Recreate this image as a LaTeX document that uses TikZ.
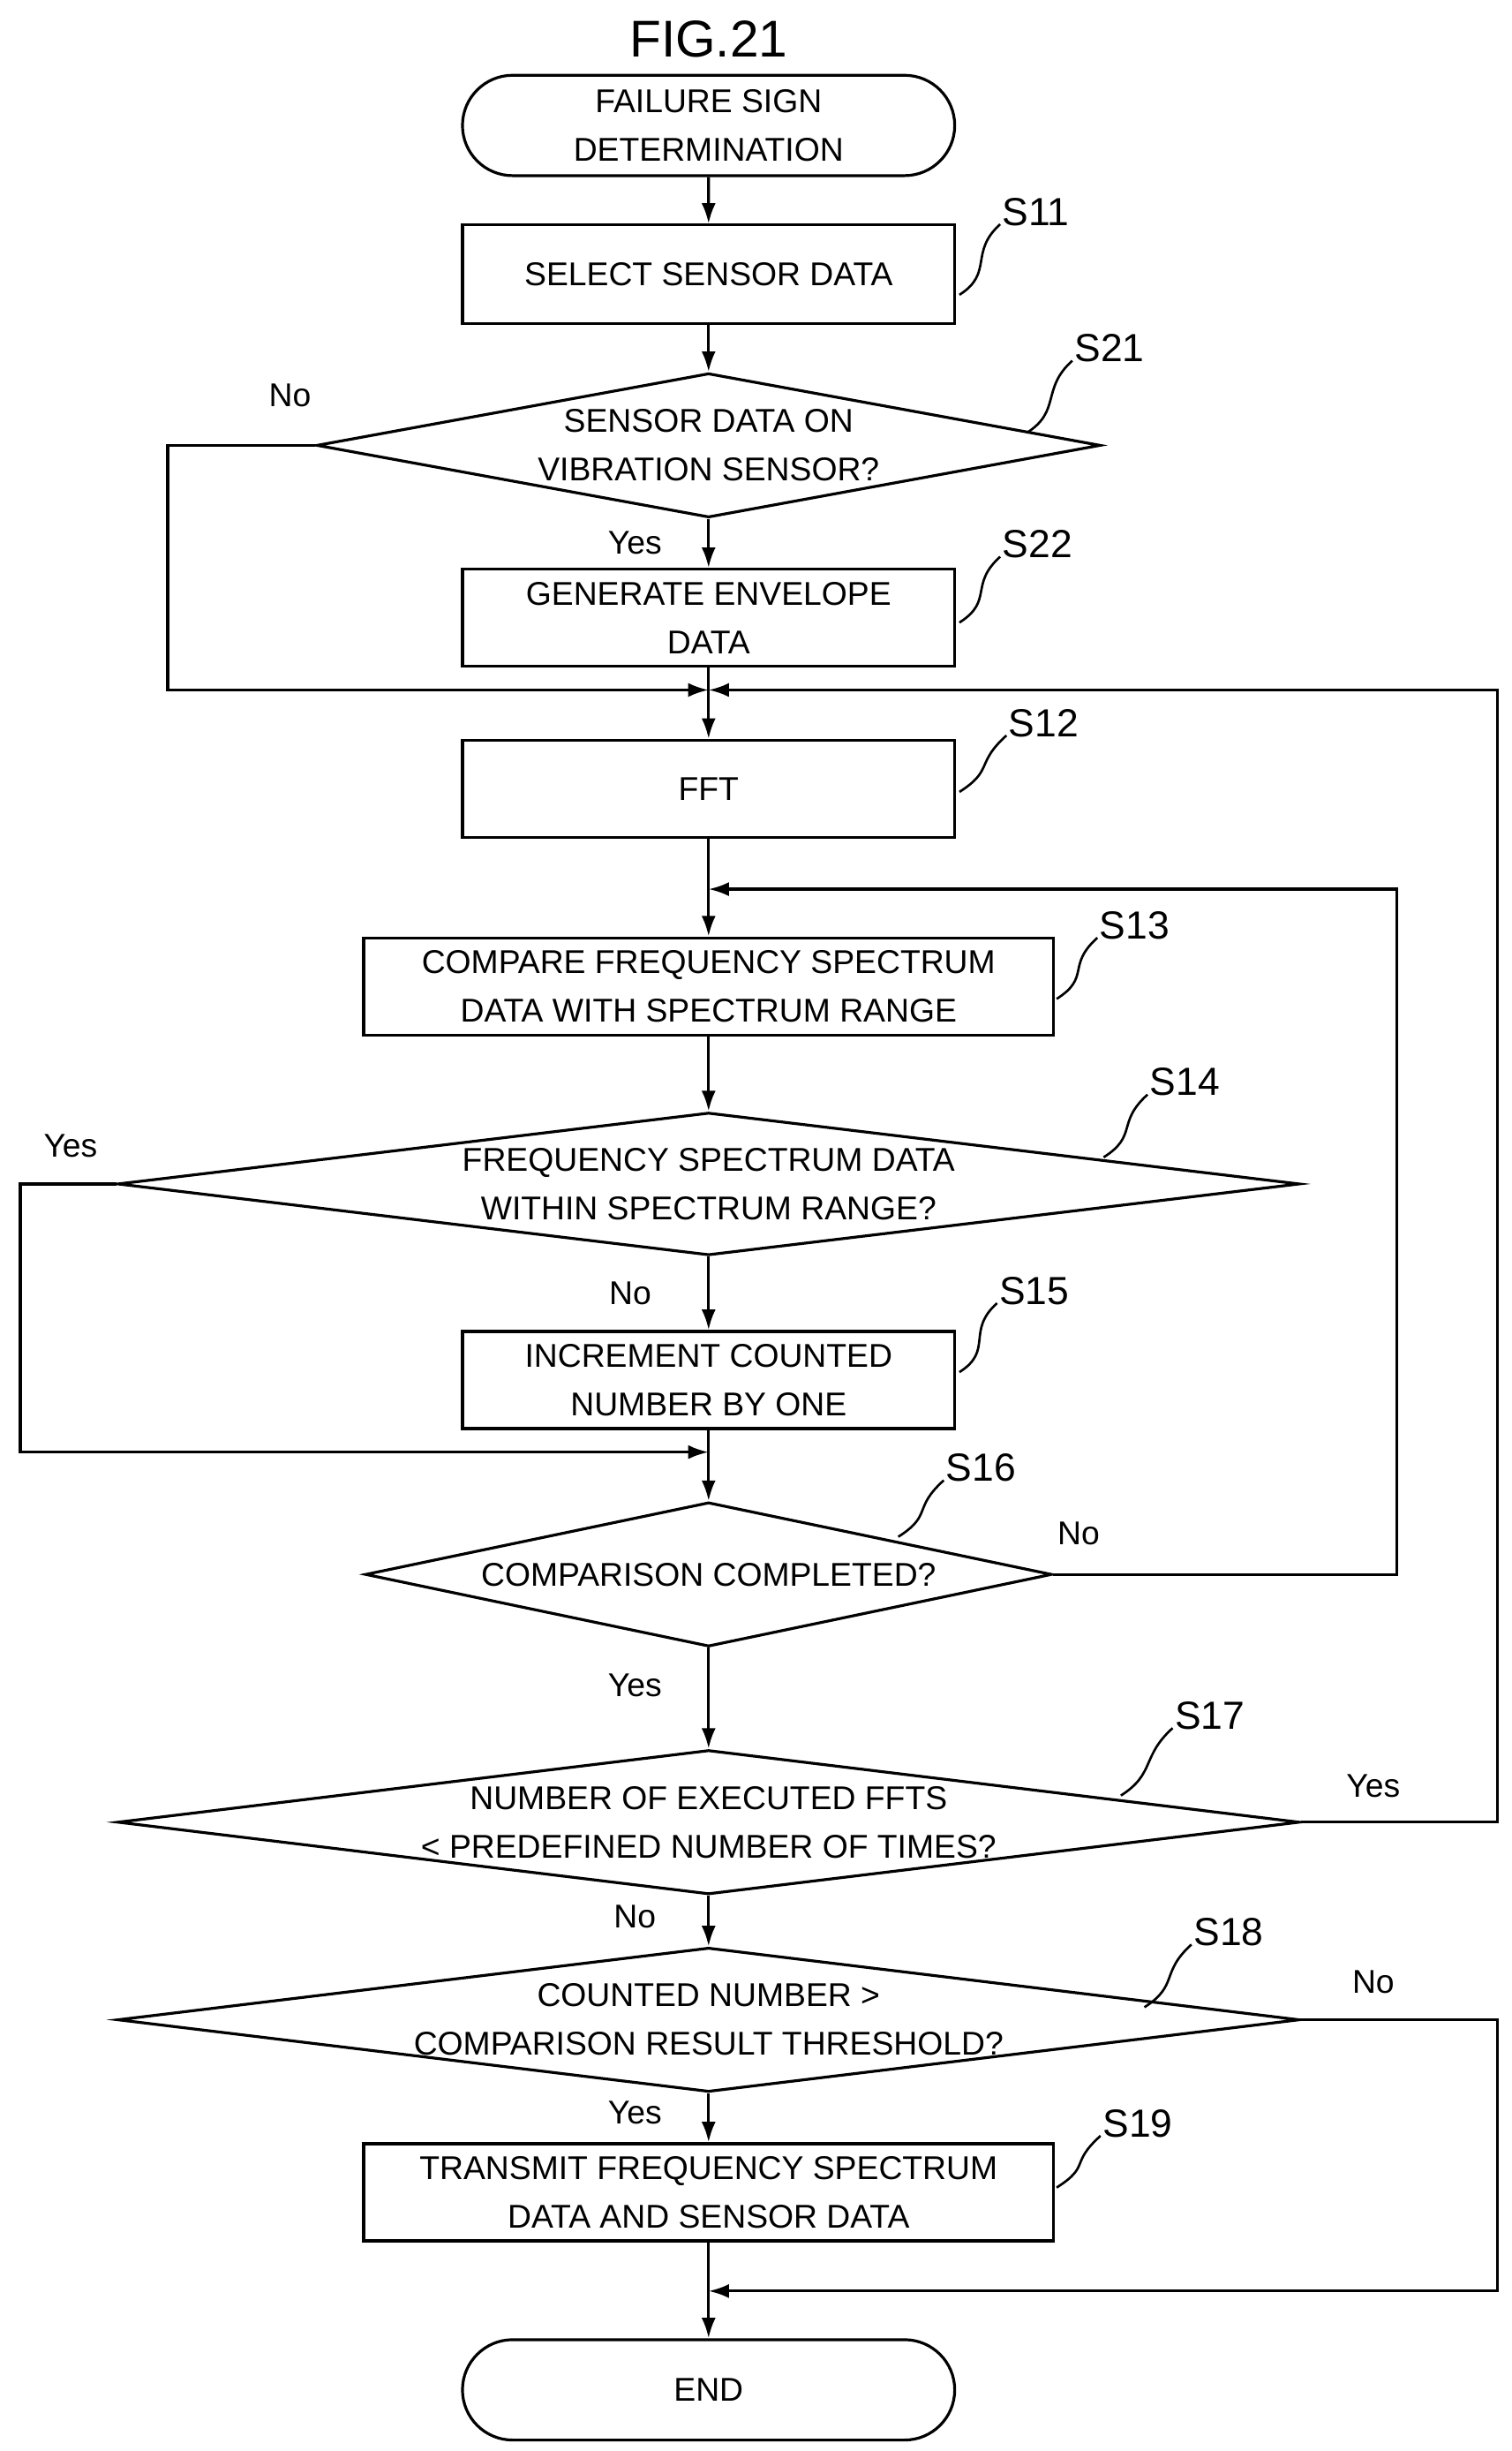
\documentclass[tikz,border=0pt]{standalone}
\usepackage{fontspec}
\setmainfont{Liberation Sans}
\usetikzlibrary{shapes.geometric,shapes.misc,arrows.meta}
\begin{document}
\begin{tikzpicture}[x=1pt,y=-1pt,
  every node/.style={font=\fontsize{21}{31}\selectfont},
  box/.style={draw,line width=1.8pt,rectangle,inner sep=0,align=center},
  term/.style={draw,line width=1.8pt,rounded rectangle,inner sep=0,align=center,minimum width=314pt,minimum height=64pt},
  dia/.style={draw,line width=1.8pt,diamond,inner sep=0},
  ar/.style={line width=1.8pt,-{Latex[length=13pt,width=9pt]}},
  lab/.style={font=\fontsize{21}{25}\selectfont},
  stplab/.style={font=\fontsize{25}{28}\selectfont,anchor=west},
  lead/.style={line width=1.5pt}]
\useasboundingbox (0,0) rectangle (964,1563);
\node[font=\fontsize{33}{36}\selectfont] (title) at (452,25) {FIG.21};
\node[term] (st) at (452,80) {FAILURE SIGN\\DETERMINATION};
\node[box,minimum width=314pt,minimum height=63pt] (s11) at (452,175) {SELECT SENSOR DATA};
\node[dia,minimum width=500pt,minimum height=92pt,label={[align=center,font=\fontsize{21}{31}\selectfont]center:SENSOR DATA ON\\VIBRATION SENSOR?}] (s21) at (452,284) {};
\node[box,minimum width=314pt,minimum height=62pt] (s22) at (452,394) {GENERATE ENVELOPE\\DATA};
\node[box,minimum width=314pt,minimum height=62pt] (s12) at (452,503) {FFT};
\node[box,minimum width=440pt,minimum height=62pt] (s13) at (452,629) {COMPARE FREQUENCY SPECTRUM\\DATA WITH SPECTRUM RANGE};
\node[dia,minimum width=754pt,minimum height=91pt,label={[align=center,font=\fontsize{21}{31}\selectfont]center:FREQUENCY SPECTRUM DATA\\WITHIN SPECTRUM RANGE?}] (s14) at (452,755) {};
\node[box,minimum width=314pt,minimum height=62pt] (s15) at (452,880) {INCREMENT COUNTED\\NUMBER BY ONE};
\node[dia,minimum width=438pt,minimum height=92pt,label={[font=\fontsize{21}{31}\selectfont]center:COMPARISON COMPLETED?}] (s16) at (452,1004) {};
\node[dia,minimum width=754pt,minimum height=92pt,label={[align=center,font=\fontsize{21}{31}\selectfont]center:NUMBER OF EXECUTED FFTS\\< PREDEFINED NUMBER OF TIMES?}] (s17) at (452,1162) {};
\node[dia,minimum width=754pt,minimum height=92pt,label={[align=center,font=\fontsize{21}{31}\selectfont]center:COUNTED NUMBER >\\COMPARISON RESULT THRESHOLD?}] (s18) at (452,1288) {};
\node[box,minimum width=440pt,minimum height=62pt] (s19) at (452,1398) {TRANSMIT FREQUENCY SPECTRUM\\DATA AND SENSOR DATA};
\node[term] (en) at (452,1524) {END};
\coordinate (m1) at (452,440);
\coordinate (m2) at (452,567);
\coordinate (m3) at (452,926);
\coordinate (m4) at (452,1461);
\draw[ar] (st) -- (s11);
\draw[ar] (s11) -- (s21);
\draw[ar] (s21) -- (s22);
\draw[ar] (s22) -- (s12);
\draw[ar] (s12) -- (s13);
\draw[ar] (s13) -- (s14);
\draw[ar] (s14) -- (s15);
\draw[ar] (s15) -- (s16);
\draw[ar] (s16) -- (s17);
\draw[ar] (s17) -- (s18);
\draw[ar] (s18) -- (s19);
\draw[ar] (s19) -- (en);
\draw[ar] (s21.west) -- (107,284) -- (107,440) -- (m1);
\draw[ar] (s17.east) -- (955,1162) -- (955,440) -- (m1);
\draw[ar] (s16.east) -- (891,1004) -- (891,567) -- (m2);
\draw[ar] (s14.west) -- (13,755) -- (13,926) -- (m3);
\draw[ar] (s18.east) -- (955,1288) -- (955,1461) -- (m4);
\node[lab] (l1) at (185,252) {No};
\node[lab] (l2) at (405,346) {Yes};
\node[lab] (l3) at (45,731) {Yes};
\node[lab] (l4) at (402,825) {No};
\node[lab] (l5) at (688,978) {No};
\node[lab] (l6) at (405,1075) {Yes};
\node[lab] (l7) at (876,1139) {Yes};
\node[lab] (l8) at (405,1222) {No};
\node[lab] (l9) at (876,1264) {No};
\node[lab] (l10) at (405,1347) {Yes};
\foreach \n/\sx/\sy/\lx/\ly in {S11/612/188/636/135, S21/655/276/682/222, S22/612/397/636/347, S12/612/505/640/461, S13/674/637/698/590, S14/704/738/730/690, S15/612/875/634/823, S16/573/980/600/936, S17/715/1145/746/1094, S18/730/1280/758/1232, S19/674/1395/700/1354}{
  \node[stplab] (\n) at (\lx,\ly) {\n};
  \draw[lead] (\sx,\sy) .. controls (\sx+22,\sy-14) and (\lx-18,\ly+26) .. (\lx+2,\ly+8);
}
\end{tikzpicture}
\end{document}
